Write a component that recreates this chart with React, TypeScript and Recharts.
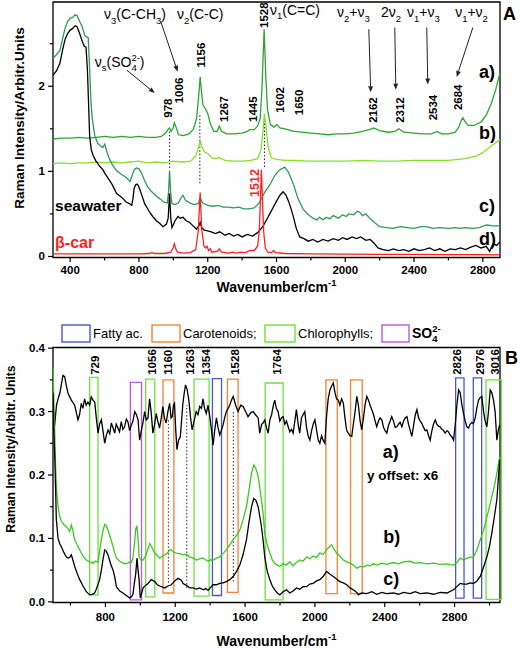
import React from "react";
import { LineChart, Line, XAxis, YAxis, ReferenceArea, ReferenceLine, ReferenceDot } from "recharts";

const FONT = '"Liberation Sans", Arial, Helvetica, sans-serif';

type P = [number, number];
const pts = (a: P[]) => a.map(([x, y]) => ({ x, y }));

// ---------- panel A: spectra (wavenumber, intensity) ----------
const specA_a: P[] = [
  [300, 1.38], [350, 1.39], [400, 1.39], [450, 1.4], [500, 1.39], [550, 1.4], [600, 1.41], [650, 1.4], [700, 1.41],
  [750, 1.4], [800, 1.41], [850, 1.4], [900, 1.4], [930, 1.41], [955, 1.45], [968, 1.49], [978, 1.51], [988, 1.47],
  [997, 1.5], [1006, 1.57], [1016, 1.52], [1030, 1.43], [1060, 1.42], [1090, 1.44], [1115, 1.49], [1135, 1.62],
  [1148, 1.9], [1156, 2.11], [1163, 1.95], [1172, 1.78], [1185, 1.74], [1200, 1.68], [1215, 1.56], [1235, 1.47],
  [1255, 1.47], [1267, 1.53], [1280, 1.47], [1310, 1.44], [1350, 1.44], [1400, 1.45], [1430, 1.47], [1445, 1.49],
  [1470, 1.49], [1490, 1.53], [1505, 1.62], [1515, 1.95], [1528, 2.67], [1538, 2.1], [1548, 1.72], [1565, 1.55],
  [1585, 1.52], [1602, 1.55], [1620, 1.51], [1650, 1.5], [1700, 1.47], [1750, 1.46], [1800, 1.45], [1850, 1.44],
  [1900, 1.43], [1950, 1.44], [2000, 1.44], [2050, 1.45], [2100, 1.47], [2140, 1.49], [2165, 1.51], [2200, 1.48],
  [2250, 1.46], [2290, 1.47], [2312, 1.5], [2340, 1.46], [2400, 1.45], [2450, 1.44], [2500, 1.44], [2534, 1.47],
  [2560, 1.44], [2600, 1.44], [2640, 1.46], [2660, 1.52], [2675, 1.6], [2684, 1.63], [2695, 1.59], [2715, 1.54],
  [2750, 1.54], [2790, 1.58], [2820, 1.66], [2850, 1.8], [2875, 1.96], [2900, 2.16],
];
const specA_b: P[] = [
  [300, 1.09], [350, 1.1], [400, 1.09], [450, 1.1], [500, 1.1], [550, 1.11], [600, 1.1], [650, 1.11], [700, 1.1],
  [750, 1.11], [800, 1.12], [850, 1.1], [900, 1.11], [950, 1.1], [1000, 1.12], [1050, 1.11], [1100, 1.12],
  [1130, 1.18], [1146, 1.28], [1156, 1.36], [1166, 1.29], [1180, 1.23], [1200, 1.21], [1230, 1.15], [1267, 1.16],
  [1300, 1.13], [1350, 1.12], [1400, 1.12], [1450, 1.13], [1490, 1.15], [1510, 1.25], [1520, 1.45], [1530, 1.68],
  [1540, 1.5], [1552, 1.28], [1570, 1.16], [1600, 1.14], [1650, 1.13], [1700, 1.13], [1800, 1.12], [1900, 1.12],
  [2000, 1.12], [2100, 1.13], [2200, 1.12], [2300, 1.12], [2400, 1.13], [2500, 1.13], [2600, 1.13], [2700, 1.15],
  [2760, 1.18], [2800, 1.22], [2850, 1.3], [2900, 1.37],
];
const specA_c: P[] = [
  [300, 2.33], [320, 2.37], [340, 2.42], [355, 2.55], [370, 2.68], [385, 2.76], [400, 2.8], [415, 2.81], [428, 2.84],
  [440, 2.83], [455, 2.76], [470, 2.7], [484, 2.6], [495, 2.58], [505, 2.57], [513, 2.2], [520, 1.85], [528, 1.62],
  [543, 1.42], [560, 1.33], [575, 1.3], [590, 1.28], [601, 1.32], [612, 1.24], [625, 1.16], [645, 1.08], [669, 1.01],
  [695, 0.97], [717, 0.94], [735, 0.91], [748, 0.88], [760, 0.95], [772, 1.02], [785, 1.04], [800, 1.03], [815, 0.98],
  [833, 0.89], [850, 0.82], [870, 0.77], [900, 0.71], [920, 0.68], [945, 0.64], [965, 0.63], [972, 0.75], [978, 1.01],
  [984, 0.76], [992, 0.62], [1010, 0.61], [1030, 0.63], [1045, 0.69], [1056, 0.72], [1070, 0.66], [1095, 0.63],
  [1120, 0.61], [1145, 0.62], [1156, 0.69], [1170, 0.63], [1200, 0.6], [1230, 0.59], [1260, 0.6], [1290, 0.58],
  [1320, 0.58], [1350, 0.57], [1380, 0.58], [1410, 0.56], [1440, 0.56], [1470, 0.57], [1500, 0.63], [1530, 0.75],
  [1561, 0.84], [1590, 0.95], [1620, 1.02], [1648, 1.05], [1670, 0.99], [1700, 0.84], [1725, 0.68], [1754, 0.56],
  [1780, 0.5], [1812, 0.45], [1835, 0.43], [1850, 0.46], [1870, 0.43], [1890, 0.46], [1910, 0.44], [1930, 0.48],
  [1960, 0.45], [1985, 0.49], [2005, 0.47], [2020, 0.5], [2050, 0.49], [2070, 0.53], [2084, 0.52], [2100, 0.48],
  [2120, 0.5], [2142, 0.45], [2170, 0.4], [2200, 0.35], [2240, 0.34], [2277, 0.33], [2320, 0.35], [2360, 0.34],
  [2400, 0.33], [2440, 0.35], [2472, 0.35], [2510, 0.33], [2550, 0.34], [2600, 0.33], [2640, 0.34], [2666, 0.33],
  [2700, 0.34], [2740, 0.33], [2780, 0.34], [2821, 0.37], [2860, 0.36], [2900, 0.36],
];
const specA_d: P[] = [
  [300, 2.13], [320, 2.18], [340, 2.27], [355, 2.42], [370, 2.55], [385, 2.62], [400, 2.66], [415, 2.68], [428, 2.71],
  [440, 2.7], [455, 2.62], [470, 2.53], [482, 2.47], [492, 2.46], [500, 2.2], [506, 1.85], [513, 1.42], [523, 1.25],
  [535, 1.18], [550, 1.12], [572, 1.06], [590, 1.02], [601, 0.98], [620, 0.92], [640, 0.86], [655, 0.8], [670, 0.74],
  [690, 0.71], [707, 0.68], [725, 0.64], [746, 0.62], [758, 0.6], [765, 0.68], [772, 0.8], [780, 0.84], [789, 0.85],
  [797, 0.83], [806, 0.78], [820, 0.7], [833, 0.62], [848, 0.57], [862, 0.52], [880, 0.47], [901, 0.42], [920, 0.39],
  [940, 0.35], [960, 0.38], [970, 0.45], [978, 0.74], [985, 0.45], [992, 0.34], [1010, 0.42], [1027, 0.47],
  [1040, 0.45], [1056, 0.46], [1075, 0.42], [1095, 0.4], [1115, 0.36], [1134, 0.32], [1148, 0.36], [1156, 0.4],
  [1165, 0.34], [1180, 0.31], [1200, 0.3], [1220, 0.29], [1245, 0.27], [1270, 0.29], [1300, 0.25], [1325, 0.27],
  [1350, 0.24], [1375, 0.26], [1400, 0.23], [1430, 0.26], [1460, 0.24], [1490, 0.28], [1520, 0.35], [1545, 0.44],
  [1561, 0.5], [1579, 0.57], [1600, 0.65], [1620, 0.72], [1638, 0.76], [1655, 0.72], [1670, 0.65], [1685, 0.56],
  [1700, 0.45], [1715, 0.33], [1735, 0.23], [1760, 0.21], [1785, 0.18], [1812, 0.2], [1840, 0.17], [1870, 0.2],
  [1900, 0.18], [1930, 0.21], [1960, 0.19], [1985, 0.22], [2010, 0.2], [2040, 0.23], [2065, 0.21], [2090, 0.23],
  [2120, 0.19], [2145, 0.2], [2170, 0.15], [2190, 0.1], [2220, 0.08], [2250, 0.07], [2280, 0.09], [2310, 0.07],
  [2340, 0.08], [2370, 0.06], [2400, 0.09], [2430, 0.07], [2460, 0.08], [2490, 0.1], [2520, 0.07], [2550, 0.09],
  [2580, 0.06], [2610, 0.09], [2640, 0.08], [2670, 0.1], [2700, 0.08], [2730, 0.11], [2760, 0.13], [2790, 0.1],
  [2820, 0.12], [2840, 0.06], [2860, 0.15], [2880, 0.13], [2900, 0.17],
];
const specA_bcar: P[] = [
  [300, 0.03], [400, 0.03], [500, 0.03], [600, 0.03], [700, 0.03], [800, 0.03], [860, 0.035], [875, 0.045],
  [890, 0.035], [950, 0.035], [985, 0.05], [998, 0.1], [1006, 0.15], [1014, 0.09], [1025, 0.05], [1060, 0.04],
  [1100, 0.045], [1130, 0.08], [1145, 0.3], [1156, 0.75], [1165, 0.32], [1178, 0.12], [1188, 0.1], [1196, 0.12],
  [1205, 0.07], [1215, 0.09], [1225, 0.05], [1255, 0.06], [1267, 0.09], [1280, 0.05], [1320, 0.04], [1345, 0.05],
  [1365, 0.04], [1390, 0.05], [1420, 0.045], [1445, 0.07], [1470, 0.07], [1490, 0.12], [1500, 0.3], [1507, 0.7],
  [1512, 1.02], [1518, 0.7], [1525, 0.3], [1535, 0.1], [1550, 0.05], [1570, 0.045], [1583, 0.07], [1595, 0.045],
  [1650, 0.035], [1800, 0.03], [2000, 0.028], [2200, 0.025], [2400, 0.025], [2600, 0.022], [2800, 0.022], [2900, 0.02],
];

// ---------- panel B: spectra ----------
const specB_a: P[] = [
  [500, 0.3], [505, 0.27], [510, 0.28], [520, 0.31], [529, 0.32], [540, 0.33], [557, 0.357], [567, 0.355],
  [577, 0.34], [586, 0.329], [605, 0.318], [624, 0.31], [643, 0.287], [652, 0.295], [662, 0.313], [671, 0.305],
  [681, 0.32], [690, 0.31], [700, 0.315], [710, 0.31], [719, 0.323], [729, 0.318], [739, 0.315], [748, 0.29],
  [758, 0.266], [767, 0.28], [777, 0.287], [786, 0.27], [796, 0.25], [805, 0.262], [815, 0.271], [825, 0.265],
  [834, 0.282], [843, 0.275], [853, 0.266], [862, 0.28], [872, 0.274], [881, 0.268], [891, 0.284], [900, 0.272],
  [910, 0.276], [920, 0.288], [929, 0.284], [939, 0.27], [949, 0.279], [958, 0.285], [968, 0.3], [978, 0.295],
  [987, 0.287], [996, 0.255], [1006, 0.27], [1015, 0.282], [1025, 0.3], [1034, 0.287], [1044, 0.29], [1053, 0.32],
  [1062, 0.3], [1072, 0.266], [1082, 0.28], [1091, 0.297], [1100, 0.285], [1110, 0.274], [1120, 0.29],
  [1129, 0.308], [1138, 0.29], [1148, 0.282], [1158, 0.3], [1168, 0.313], [1176, 0.29], [1183, 0.292],
  [1190, 0.31], [1196, 0.313], [1203, 0.27], [1210, 0.24], [1219, 0.255], [1229, 0.26], [1236, 0.285],
  [1244, 0.313], [1252, 0.33], [1259, 0.342], [1268, 0.335], [1278, 0.318], [1288, 0.29], [1297, 0.271],
  [1308, 0.285], [1320, 0.3], [1330, 0.295], [1340, 0.308], [1350, 0.305], [1359, 0.32], [1368, 0.305],
  [1378, 0.297], [1388, 0.31], [1398, 0.292], [1408, 0.27], [1417, 0.247], [1426, 0.27], [1436, 0.29],
  [1445, 0.275], [1455, 0.263], [1464, 0.27], [1474, 0.279], [1483, 0.29], [1493, 0.3], [1503, 0.305],
  [1512, 0.31], [1522, 0.318], [1532, 0.324], [1546, 0.31], [1560, 0.3], [1575, 0.31], [1589, 0.308],
  [1603, 0.3], [1617, 0.292], [1632, 0.298], [1646, 0.3], [1660, 0.295], [1675, 0.29], [1684, 0.266],
  [1695, 0.28], [1703, 0.282], [1713, 0.287], [1722, 0.275], [1732, 0.266], [1742, 0.287], [1752, 0.295],
  [1762, 0.31], [1770, 0.318], [1779, 0.305], [1789, 0.3], [1799, 0.285], [1808, 0.29], [1818, 0.292],
  [1828, 0.28], [1837, 0.285], [1847, 0.276], [1856, 0.268], [1866, 0.272], [1875, 0.266], [1885, 0.285],
  [1894, 0.303], [1904, 0.28], [1913, 0.266], [1923, 0.29], [1932, 0.295], [1942, 0.3], [1952, 0.275],
  [1961, 0.262], [1971, 0.255], [1981, 0.27], [1990, 0.28], [2000, 0.287], [2010, 0.27], [2019, 0.255],
  [2028, 0.25], [2038, 0.262], [2047, 0.255], [2057, 0.25], [2066, 0.29], [2076, 0.32], [2086, 0.334],
  [2095, 0.34], [2105, 0.345], [2115, 0.33], [2124, 0.32], [2134, 0.318], [2143, 0.31], [2153, 0.32],
  [2163, 0.313], [2172, 0.29], [2182, 0.27], [2191, 0.266], [2201, 0.262], [2211, 0.261], [2220, 0.28],
  [2230, 0.3], [2240, 0.324], [2249, 0.31], [2259, 0.285], [2268, 0.271], [2278, 0.29], [2287, 0.31],
  [2297, 0.324], [2307, 0.318], [2316, 0.31], [2326, 0.303], [2336, 0.295], [2345, 0.285], [2354, 0.276],
  [2364, 0.285], [2373, 0.29], [2383, 0.287], [2393, 0.275], [2402, 0.27], [2412, 0.266], [2421, 0.278],
  [2431, 0.285], [2440, 0.292], [2450, 0.285], [2460, 0.275], [2469, 0.276], [2479, 0.28], [2488, 0.283],
  [2498, 0.276], [2508, 0.285], [2517, 0.29], [2527, 0.292], [2536, 0.28], [2546, 0.27], [2555, 0.261],
  [2565, 0.278], [2575, 0.295], [2584, 0.303], [2594, 0.29], [2603, 0.285], [2613, 0.281], [2622, 0.275],
  [2632, 0.27], [2641, 0.271], [2651, 0.262], [2660, 0.255], [2670, 0.27], [2679, 0.28], [2689, 0.287],
  [2698, 0.28], [2708, 0.277], [2717, 0.276], [2727, 0.272], [2737, 0.27], [2746, 0.266], [2756, 0.27],
  [2765, 0.268], [2775, 0.263], [2785, 0.26], [2794, 0.255], [2804, 0.28], [2813, 0.31], [2823, 0.334],
  [2832, 0.33], [2842, 0.31], [2851, 0.297], [2861, 0.285], [2870, 0.276], [2880, 0.274], [2889, 0.28],
  [2899, 0.283], [2908, 0.281], [2918, 0.29], [2927, 0.305], [2937, 0.318], [2946, 0.322], [2956, 0.324],
  [2966, 0.3], [2975, 0.285], [2985, 0.276], [2994, 0.3], [3004, 0.334], [3013, 0.33], [3023, 0.318],
  [3032, 0.3], [3042, 0.255], [3050, 0.27], [3058, 0.279],
];
const specB_b: P[] = [
  [500, 0.37], [505, 0.32], [510, 0.266], [515, 0.213], [520, 0.177], [529, 0.15], [538, 0.135], [548, 0.127],
  [562, 0.122], [576, 0.119], [586, 0.115], [596, 0.111], [605, 0.121], [614, 0.112], [624, 0.098], [638, 0.09],
  [653, 0.082], [672, 0.072], [691, 0.066], [710, 0.063], [729, 0.061], [743, 0.064], [758, 0.063], [767, 0.08],
  [777, 0.098], [786, 0.112], [796, 0.122], [805, 0.12], [815, 0.113], [830, 0.1], [844, 0.087], [853, 0.078],
  [863, 0.069], [882, 0.064], [901, 0.061], [920, 0.06], [939, 0.063], [949, 0.062], [958, 0.07], [966, 0.09],
  [974, 0.115], [981, 0.12], [987, 0.1], [993, 0.071], [1005, 0.066], [1016, 0.066], [1030, 0.072], [1044, 0.084],
  [1054, 0.092], [1068, 0.085], [1083, 0.077], [1097, 0.073], [1111, 0.069], [1125, 0.072], [1140, 0.074],
  [1159, 0.078], [1168, 0.082], [1178, 0.082], [1192, 0.078], [1207, 0.077], [1226, 0.076], [1245, 0.074],
  [1264, 0.075], [1283, 0.071], [1302, 0.069], [1321, 0.066], [1340, 0.068], [1360, 0.069], [1375, 0.066],
  [1388, 0.064], [1400, 0.066], [1417, 0.066], [1436, 0.069], [1455, 0.071], [1474, 0.076], [1493, 0.082],
  [1512, 0.09], [1532, 0.098], [1551, 0.105], [1570, 0.113], [1589, 0.13], [1608, 0.15], [1622, 0.175],
  [1637, 0.203], [1650, 0.216], [1662, 0.21], [1675, 0.198], [1684, 0.18], [1694, 0.16], [1703, 0.14],
  [1713, 0.108], [1727, 0.09], [1742, 0.077], [1756, 0.066], [1770, 0.061], [1785, 0.058], [1799, 0.056],
  [1818, 0.06], [1837, 0.058], [1856, 0.063], [1875, 0.057], [1894, 0.062], [1913, 0.066], [1932, 0.064],
  [1952, 0.071], [1971, 0.068], [1990, 0.072], [2009, 0.07], [2028, 0.077], [2047, 0.075], [2066, 0.082],
  [2080, 0.086], [2095, 0.09], [2110, 0.083], [2124, 0.077], [2143, 0.072], [2163, 0.066], [2182, 0.063],
  [2201, 0.061], [2220, 0.058], [2240, 0.053], [2259, 0.056], [2278, 0.055], [2297, 0.058], [2316, 0.057],
  [2335, 0.06], [2354, 0.058], [2383, 0.061], [2411, 0.059], [2449, 0.062], [2478, 0.06], [2507, 0.063],
  [2545, 0.064], [2574, 0.061], [2603, 0.062], [2641, 0.06], [2679, 0.061], [2718, 0.059], [2756, 0.06],
  [2794, 0.058], [2813, 0.062], [2832, 0.069], [2851, 0.066], [2870, 0.069], [2889, 0.07], [2908, 0.071],
  [2928, 0.082], [2947, 0.098], [2966, 0.113], [2985, 0.134], [3000, 0.15], [3013, 0.166], [3028, 0.183],
  [3042, 0.203], [3058, 0.229],
];
const specB_c: P[] = [
  [500, 0.33], [505, 0.27], [510, 0.23], [515, 0.177], [519, 0.13], [529, 0.1], [538, 0.092], [548, 0.087],
  [562, 0.078], [576, 0.071], [586, 0.069], [596, 0.07], [605, 0.074], [614, 0.066], [624, 0.056], [638, 0.045],
  [653, 0.035], [672, 0.025], [691, 0.016], [710, 0.011], [729, 0.012], [738, 0.014], [748, 0.02], [758, 0.028],
  [767, 0.035], [777, 0.05], [786, 0.066], [796, 0.082], [805, 0.08], [815, 0.074], [830, 0.06], [844, 0.05],
  [853, 0.04], [863, 0.024], [882, 0.017], [901, 0.014], [920, 0.01], [939, 0.006], [949, 0.008], [958, 0.012],
  [966, 0.03], [974, 0.045], [981, 0.069], [987, 0.05], [993, 0.035], [1000, 0.006], [1016, 0.022], [1030, 0.026],
  [1044, 0.029], [1063, 0.035], [1083, 0.032], [1097, 0.027], [1111, 0.025], [1140, 0.022], [1159, 0.025],
  [1178, 0.027], [1197, 0.033], [1216, 0.037], [1235, 0.034], [1245, 0.029], [1264, 0.026], [1283, 0.022],
  [1302, 0.022], [1321, 0.02], [1340, 0.022], [1360, 0.019], [1375, 0.021], [1388, 0.018], [1400, 0.022],
  [1417, 0.027], [1436, 0.027], [1455, 0.029], [1474, 0.03], [1493, 0.032], [1512, 0.035], [1532, 0.04],
  [1551, 0.048], [1570, 0.058], [1589, 0.075], [1608, 0.098], [1622, 0.125], [1637, 0.15], [1650, 0.163],
  [1662, 0.16], [1675, 0.15], [1684, 0.135], [1694, 0.118], [1703, 0.098], [1713, 0.07], [1727, 0.048],
  [1742, 0.035], [1756, 0.025], [1770, 0.019], [1785, 0.014], [1799, 0.011], [1818, 0.016], [1837, 0.019],
  [1856, 0.014], [1875, 0.017], [1894, 0.022], [1913, 0.02], [1932, 0.024], [1952, 0.024], [1971, 0.028],
  [1990, 0.029], [2009, 0.033], [2028, 0.035], [2047, 0.04], [2066, 0.048], [2085, 0.044], [2105, 0.04],
  [2124, 0.036], [2143, 0.032], [2163, 0.03], [2182, 0.027], [2201, 0.022], [2220, 0.019], [2240, 0.015],
  [2249, 0.011], [2268, 0.014], [2297, 0.013], [2326, 0.016], [2354, 0.012], [2383, 0.015], [2411, 0.013],
  [2449, 0.014], [2478, 0.012], [2507, 0.015], [2545, 0.013], [2574, 0.016], [2603, 0.013], [2641, 0.014],
  [2679, 0.012], [2718, 0.015], [2756, 0.014], [2794, 0.019], [2813, 0.024], [2832, 0.029], [2851, 0.028],
  [2870, 0.028], [2889, 0.03], [2908, 0.029], [2928, 0.033], [2947, 0.04], [2966, 0.055], [2985, 0.071],
  [3000, 0.088], [3013, 0.108], [3028, 0.135], [3042, 0.161], [3058, 0.224],
];

// ---------- ticks ----------
const topXMajor = [400, 800, 1200, 1600, 2000, 2400, 2800];
const topXMinor = [600, 1000, 1400, 1800, 2200, 2600];
const topYMajor = [0, 1, 2];
const topYMinor = [0.5, 1.5, 2.5];
const botXMajor = [800, 1200, 1600, 2000, 2400, 2800];
const botXMinor = [600, 1000, 1400, 1800, 2200, 2600, 3000];
const botYMajor = [0, 0.1, 0.2, 0.3, 0.4];
const botYMinor = [0.05, 0.15, 0.25, 0.35];

// ---------- annotations ----------
const topPeakLabels = [
  { x: 970, y: 1.63, t: "978" }, { x: 1034, y: 1.8, t: "1006" }, { x: 1160, y: 2.22, t: "1156" },
  { x: 1295, y: 1.58, t: "1267" }, { x: 1463, y: 1.58, t: "1445" }, { x: 1527, y: 2.685, t: "1528" },
  { x: 1619, y: 1.69, t: "1602" }, { x: 1731, y: 1.66, t: "1650" }, { x: 2163, y: 1.57, t: "2162" },
  { x: 2317, y: 1.57, t: "2312" }, { x: 2510, y: 1.6, t: "2534" }, { x: 2656, y: 1.72, t: "2684" },
];
const topModeLabels = [
  { x: 597, y: 2.79, t: "ν_{3}(C-CH_{3})" }, { x: 1021, y: 2.79, t: "ν_{2}(C-C)" },
  { x: 1562, y: 2.84, t: "ν_{1}(C=C)" }, { x: 543, y: 2.23, t: "ν_{s}(SO_{4}^{2-})" },
  { x: 1952, y: 2.81, t: "ν_{2}+ν_{3}" }, { x: 2208, y: 2.81, t: "2ν_{2}" },
  { x: 2359, y: 2.81, t: "ν_{1}+ν_{3}" }, { x: 2639, y: 2.81, t: "ν_{1}+ν_{2}" },
];
const topArrows = [
  { from: [927, 2.76], to: [1025, 2.17] }, { from: [729, 2.19], to: [892, 1.92] },
  { from: [2137, 2.67], to: [2148, 1.93] }, { from: [2288, 2.69], to: [2294, 1.96] },
  { from: [2474, 2.69], to: [2480, 2.02] }, { from: [2742, 2.69], to: [2648, 2.11] },
];
const topDotted = [
  { x: 978, y1: 1.04, y2: 1.49 }, { x: 1154, y1: 0.86, y2: 1.69 }, { x: 1530, y1: 1.05, y2: 1.6 },
];
const topTags = [
  { x: 312, y: 0.53, t: "seawater", c: "#000", s: 15.5 }, { x: 312, y: 0.1, t: "β-car", c: "#ff1f1f", s: 16 },
  { x: 2778, y: 2.1, t: "a)", c: "#000", s: 18 }, { x: 2778, y: 1.38, t: "b)", c: "#000", s: 18 },
  { x: 2778, y: 0.52, t: "c)", c: "#000", s: 18 }, { x: 2778, y: 0.13, t: "d)", c: "#000", s: 18 },
];

const botPeakLabels = [
  { x: 740, t: "729" }, { x: 1066, t: "1056" }, { x: 1158, t: "1160" }, { x: 1282, t: "1263" },
  { x: 1378, t: "1354" }, { x: 1542, t: "1528" }, { x: 1782, t: "1764" }, { x: 2813, t: "2826" },
  { x: 2947, t: "2976" }, { x: 3033, t: "3016" },
];
const botBoxes = [
  { x1: 710, x2: 758, y1: 0.011, y2: 0.354, k: "chl" }, { x1: 943, x2: 1007, y1: 0.003, y2: 0.346, k: "so4" },
  { x1: 1031, x2: 1083, y1: 0.008, y2: 0.351, k: "chl" }, { x1: 1130, x2: 1192, y1: 0.014, y2: 0.35, k: "car" },
  { x1: 1308, x2: 1394, y1: 0.009, y2: 0.351, k: "chl" }, { x1: 1413, x2: 1465, y1: 0.01, y2: 0.352, k: "fat" },
  { x1: 1499, x2: 1560, y1: 0.015, y2: 0.351, k: "car" }, { x1: 1715, x2: 1818, y1: 0.003, y2: 0.345, k: "chl" },
  { x1: 2063, x2: 2128, y1: 0.013, y2: 0.35, k: "car" }, { x1: 2204, x2: 2271, y1: 0.013, y2: 0.35, k: "car" },
  { x1: 2806, x2: 2854, y1: 0.006, y2: 0.353, k: "fat" }, { x1: 2907, x2: 2955, y1: 0.006, y2: 0.353, k: "fat" },
  { x1: 2980, x2: 3068, y1: 0.004, y2: 0.35, k: "chl" },
];
const botDotted = [
  { x: 1161, y1: 0.03, y2: 0.287 }, { x: 1266, y1: 0.022, y2: 0.31 }, { x: 1533, y1: 0.032, y2: 0.3 },
];
const botTags = [
  { x: 2389, y: 0.227, t: "a)", s: 18 }, { x: 2298, y: 0.192, t: "y offset: x6", s: 13.5 },
  { x: 2392, y: 0.093, t: "b)", s: 18 }, { x: 2392, y: 0.027, t: "c)", s: 18 },
];
const legendItems = [
  { k: "fat", t: "Fatty ac." }, { k: "car", t: "Carotenoids;" },
  { k: "chl", t: "Chlorophylls;" }, { k: "so4", t: "SO_{4}^{2-}" },
];
const BOX_COLORS: Record<string, string> = { fat: "#4a56d8", car: "#f0843a", chl: "#6ee23c", so4: "#b65ae0" };

// ---------- helpers ----------
function Rich({ x, y, s, size, weight = "normal", fill = "#000" }: any) {
  const parts: any[] = [];
  const re = /([_^])\{([^}]*)\}|([^_^]+)/g;
  let m: RegExpExecArray | null;
  let shift = 0;
  let subLen = 0;
  while ((m = re.exec(s))) {
    if (m[3]) {
      parts.push({ t: m[3], dy: -shift, dx: 0, fs: size });
      shift = 0;
      subLen = 0;
    } else if (m[1] === "_") {
      const to = size * 0.32;
      parts.push({ t: m[2], dy: to - shift, dx: 0, fs: size * 0.68 });
      shift = to;
      subLen = m[2].length;
    } else {
      const to = -size * 0.42;
      const dx = subLen ? -subLen * size * 0.68 * 0.56 : 0;
      parts.push({ t: m[2], dy: to - shift, dx, fs: size * 0.68 });
      shift = to;
      subLen = 0;
    }
  }
  return (
    <text x={x} y={y} fontFamily={FONT} fontWeight={weight} fill={fill} fontSize={size}>
      {parts.map((p, i) => (
        <tspan key={i} dy={p.dy} dx={p.dx} fontSize={p.fs}>{p.t}</tspan>
      ))}
    </text>
  );
}

const vText = (t: string, size: number, fill = "#000") => (p: any) => (
  <text x={p.cx} y={p.cy} transform={`rotate(-90 ${p.cx} ${p.cy})`} textAnchor="start" dominantBaseline="central"
    fontFamily={FONT} fontWeight="bold" fontSize={size} fill={fill}>{t}</text>
);

const isMajor = (majors: number[], v: number) => majors.some((m) => Math.abs(m - v) < 1e-9);

const xTick = (majors: number[], dy: number) => (p: any) => {
  const v = p.payload.value;
  const major = isMajor(majors, v);
  return (
    <g>
      <line x1={p.x} x2={p.x} y1={p.y} y2={p.y + (major ? 4.5 : 3)} stroke="#000" strokeWidth={1.2} />
      {major && (
        <text x={p.x} y={p.y + dy} textAnchor="middle" fontFamily={FONT} fontWeight="bold" fontSize={11.5} fill="#000">{v}</text>
      )}
    </g>
  );
};
const yTick = (majors: number[], fmt: (v: number) => string) => (p: any) => {
  const v = p.payload.value;
  const major = isMajor(majors, v);
  return (
    <g>
      <line x1={p.x - (major ? 5 : 3)} x2={p.x} y1={p.y} y2={p.y} stroke="#000" strokeWidth={1.2} />
      {major && (
        <text x={p.x - 8} y={p.y} textAnchor="end" dominantBaseline="central" fontFamily={FONT} fontWeight="bold" fontSize={11.5} fill="#000">{fmt(v)}</text>
      )}
    </g>
  );
};

const Arrow = (p: any) => {
  const { x1, y1, x2, y2 } = p;
  const a = Math.atan2(y2 - y1, x2 - x1);
  const L = 6;
  const W = 2.4;
  const bx = x2 - L * Math.cos(a);
  const by = y2 - L * Math.sin(a);
  const pts2 = `${x2},${y2} ${bx + W * Math.sin(a)},${by - W * Math.cos(a)} ${bx - W * Math.sin(a)},${by + W * Math.cos(a)}`;
  return (
    <g>
      <line x1={x1} y1={y1} x2={bx} y2={by} stroke="#222" strokeWidth={1} />
      <polygon points={pts2} fill="#222" />
    </g>
  );
};

const TOP_X = [300, 2900];
const TOP_Y = [-0.012, 2.99];
const BOT_X = [500, 3060];
const BOT_Y = [-0.001, 0.401];

function PanelA() {
  return (
    <LineChart width={521} height={300} margin={{ top: 2, right: 21, bottom: 0, left: 0 }}>
      <XAxis dataKey="x" type="number" domain={TOP_X} allowDataOverflow ticks={[...topXMajor, ...topXMinor].sort((a, b) => a - b)}
        interval={0} height={42.5} tickSize={0} tickMargin={0} axisLine={false} tickLine={false} tick={xTick(topXMajor, 16)} />
      <YAxis type="number" domain={TOP_Y} allowDataOverflow ticks={[...topYMajor, ...topYMinor].sort((a, b) => a - b)}
        interval={0} width={53} tickSize={0} tickMargin={0} axisLine={false} tickLine={false} tick={yTick(topYMajor, (v) => String(v))} />
      <ReferenceArea x1={TOP_X[0]} x2={TOP_X[1]} y1={TOP_Y[0]} y2={TOP_Y[1]} fill="none" fillOpacity={0} stroke="#000" strokeWidth={1.3} ifOverflow="visible" />
      {topDotted.map((d, i) => (
        <ReferenceLine key={"td" + i} segment={[{ x: d.x, y: d.y1 }, { x: d.x, y: d.y2 }]} stroke="#333" strokeDasharray="1.5 2" strokeWidth={1.1} />
      ))}
      <Line data={pts(specA_a)} dataKey="y" stroke="#2ea52e" strokeWidth={1.3} dot={false} isAnimationActive={false} />
      <Line data={pts(specA_b)} dataKey="y" stroke="#86e02c" strokeWidth={1.3} dot={false} isAnimationActive={false} />
      <Line data={pts(specA_c)} dataKey="y" stroke="#2f9a5a" strokeWidth={1.3} dot={false} isAnimationActive={false} />
      <Line data={pts(specA_d)} dataKey="y" stroke="#000" strokeWidth={1.3} dot={false} isAnimationActive={false} />
      <Line data={pts(specA_bcar)} dataKey="y" stroke="#ff2020" strokeWidth={1.3} dot={false} isAnimationActive={false} />
      {topArrows.map((a, i) => (
        <ReferenceLine key={"ar" + i} segment={[{ x: a.from[0], y: a.from[1] }, { x: a.to[0], y: a.to[1] }]} shape={Arrow} />
      ))}
      {topPeakLabels.map((l) => (
        <ReferenceDot key={"tp" + l.t} x={l.x} y={l.y} r={0} shape={vText(l.t, 11.5)} />
      ))}
      <ReferenceDot x={1475} y={0.7} r={0} shape={vText("1512", 12.5, "#ff1f1f")} />
      {topModeLabels.map((l) => (
        <ReferenceDot key={"tm" + l.t} x={l.x} y={l.y} r={0}
          shape={(p: any) => <Rich x={p.cx} y={p.cy} s={l.t} size={14} />} />
      ))}
      {topTags.map((l) => (
        <ReferenceDot key={"tt" + l.t} x={l.x} y={l.y} r={0}
          shape={(p: any) => (
            <text x={p.cx} y={p.cy} fontFamily={FONT} fontWeight="bold" fontSize={l.s} fill={l.c}>{l.t}</text>
          )} />
      ))}
    </LineChart>
  );
}

function PanelB() {
  return (
    <LineChart width={521} height={350} margin={{ top: 47.5, right: 21, bottom: 0, left: 0 }}>
      <XAxis dataKey="x" type="number" domain={BOT_X} allowDataOverflow ticks={[...botXMajor, ...botXMinor].sort((a, b) => a - b)}
        interval={0} height={47.5} tickSize={0} tickMargin={0} axisLine={false} tickLine={false} tick={xTick(botXMajor, 18.5)} />
      <YAxis type="number" domain={BOT_Y} allowDataOverflow ticks={[...botYMajor, ...botYMinor].sort((a, b) => a - b)}
        interval={0} width={53} tickSize={0} tickMargin={0} axisLine={false} tickLine={false} tick={yTick(botYMajor, (v) => v.toFixed(1))} />
      <ReferenceArea x1={BOT_X[0]} x2={BOT_X[1]} y1={BOT_Y[0]} y2={BOT_Y[1]} fill="none" fillOpacity={0} stroke="#000" strokeWidth={1.3} ifOverflow="visible" />
      {botBoxes.map((b, i) => (
        <ReferenceArea key={"bx" + i} x1={b.x1} x2={b.x2} y1={b.y1} y2={b.y2} fill="none" fillOpacity={0}
          stroke={BOX_COLORS[b.k]} strokeWidth={1.3} ifOverflow="visible" />
      ))}
      {botDotted.map((d, i) => (
        <ReferenceLine key={"bd" + i} segment={[{ x: d.x, y: d.y1 }, { x: d.x, y: d.y2 }]} stroke="#444" strokeDasharray="1.5 2" strokeWidth={1.1} />
      ))}
      <Line data={pts(specB_a)} dataKey="y" stroke="#000" strokeWidth={1.3} dot={false} isAnimationActive={false} />
      <Line data={pts(specB_b)} dataKey="y" stroke="#3cc81e" strokeWidth={1.3} dot={false} isAnimationActive={false} />
      <Line data={pts(specB_c)} dataKey="y" stroke="#000" strokeWidth={1.3} dot={false} isAnimationActive={false} />
      {botPeakLabels.map((l) => (
        <ReferenceDot key={"bp" + l.t} x={l.x} y={0.358} r={0} ifOverflow="visible" shape={vText(l.t, 11.5)} />
      ))}
      {botTags.map((l) => (
        <ReferenceDot key={"bt" + l.t} x={l.x} y={l.y} r={0}
          shape={(p: any) => (
            <text x={p.cx} y={p.cy} fontFamily={FONT} fontWeight="bold" fontSize={l.s} fill="#000">{l.t}</text>
          )} />
      ))}
    </LineChart>
  );
}

const legendX = [62, 152, 265, 382];
const legendW = [28, 28, 30, 27];

function Overlay() {
  return (
    <svg width={521} height={650} style={{ position: "absolute", left: 0, top: 0, pointerEvents: "none" }}>
      <text x={503} y={20} fontFamily={FONT} fontWeight="bold" fontSize={18}>A</text>
      <text x={505} y={364} fontFamily={FONT} fontWeight="bold" fontSize={18}>B</text>
      <text x={19} y={118} transform="rotate(-90 19 118)" textAnchor="middle" dominantBaseline="central"
        fontFamily={FONT} fontWeight="bold" fontSize={13.5}>Raman Intensity/Arbitr.Units</text>
      <text x={11} y={449} transform="rotate(-90 11 449)" textAnchor="middle" dominantBaseline="central"
        fontFamily={FONT} fontWeight="bold" fontSize={12.2}>Raman Intensity/Arbitr. Units</text>
      {[291.5, 646].map((y) => (
        <text key={y} x={276.5} y={y} textAnchor="middle" fontFamily={FONT} fontWeight="bold" fontSize={14}>
          Wavenumber/cm<tspan dy={-6} fontSize={9.5}>-1</tspan>
        </text>
      ))}
      {legendItems.map((l, i) => (
        <g key={l.k}>
          <rect x={legendX[i]} y={325} width={legendW[i]} height={17} fill="#fff" stroke={BOX_COLORS[l.k]} strokeWidth={1.4} />
          <Rich x={legendX[i] + legendW[i] + 3} y={338} s={l.t} size={l.k === "so4" ? 14 : 13} weight={l.k === "so4" ? "bold" : "normal"} />
        </g>
      ))}
    </svg>
  );
}

export default function App() {
  return (
    <div style={{ position: "absolute", left: 0, top: 0, width: 521, height: 650, background: "#fff", fontFamily: FONT }}>
      <div style={{ position: "absolute", left: 0, top: 0 }}>
        <PanelA />
      </div>
      <div style={{ position: "absolute", left: 0, top: 300 }}>
        <PanelB />
      </div>
      <Overlay />
    </div>
  );
}
